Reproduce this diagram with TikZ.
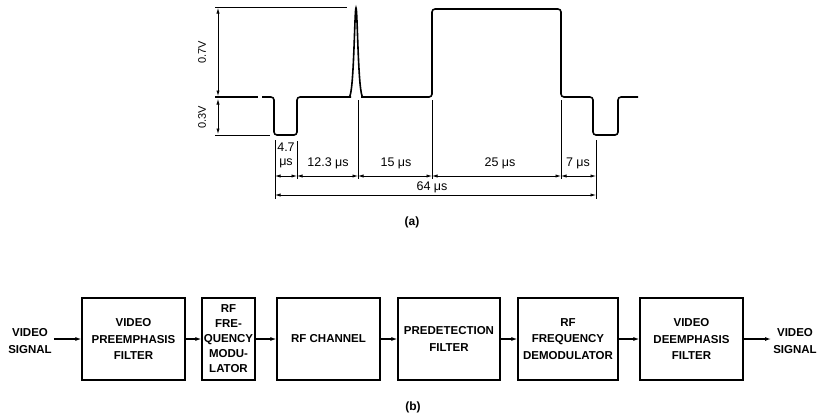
\documentclass[tikz,border=0pt]{standalone}
\usepackage{fontspec}
\setmainfont{Liberation Sans}
\usetikzlibrary{arrows.meta}
\begin{document}
\begin{tikzpicture}[x=1pt,y=-1pt,
 wave/.style={line width=1.6pt, rounded corners=3pt, line join=round},
 thinln/.style={line width=0.7pt},
 dimarr/.style={line width=0.7pt,{Latex[length=5.5pt,width=3.2pt]}-{Latex[length=5.5pt,width=3.2pt]}},
 lbl/.style={font=\fontsize{12.5}{13}\selectfont, inner sep=0pt},
 vlbl/.style={font=\fontsize{11}{12}\selectfont, inner sep=0pt},
 captxt/.style={font=\bfseries\fontsize{12}{13}\selectfont, inner sep=0pt},
 blk/.style={draw, line width=1.2pt, align=center, font=\bfseries\fontsize{11.5}{16.5}\selectfont, inner sep=0pt, minimum height=82pt},
 sigtxt/.style={align=center, font=\bfseries\fontsize{11.5}{17}\selectfont, inner sep=2pt},
 sig/.style={line width=1.2pt, -{Latex[length=6pt,width=4pt]}}
]
\fill[white] (0,0) rectangle (820,416);
\useasboundingbox (0,0) rectangle (820,416);

% ---------- (a) waveform ----------
\draw[line width=1pt] (215,7) -- (347,7);
\draw[line width=1pt] (215,135) -- (270,135);
\draw[wave] (215,97) -- (258,97);
\draw[wave] (262,97) -- (274,97) -- (274,135) -- (297,135) -- (297,97) -- (351,97);
\draw[line width=1.6pt] (349,97) .. controls (354,97) and (354.5,8) .. (356,8) .. controls (357.5,8) and (358,97) .. (363,97);
\draw[wave] (361,97) -- (432,97) -- (432,9) -- (561,9) -- (561,97) -- (593,97) -- (593,135) -- (618,135) -- (618,97) -- (638,97);

\draw[dimarr] (218,8) -- (218,96);
\draw[dimarr] (218,99) -- (218,134);
\node[vlbl, rotate=90] (v07) at (202,52) {0.7V};
\node[vlbl, rotate=90] (v03) at (202,117) {0.3V};

% extension lines
\draw[thinln] (275,140) -- (275,199);
\draw[thinln] (297,141) -- (297,179);
\draw[thinln] (358,100) -- (358,179);
\draw[thinln] (432,100) -- (432,179);
\draw[thinln] (561,100) -- (561,179);
\draw[thinln] (596,140) -- (596,199);

% dimension arrows
\draw[dimarr] (275,176) -- (297,176);
\draw[dimarr] (297,176) -- (358,176);
\draw[dimarr] (358,176) -- (432,176);
\draw[dimarr] (432,176) -- (561,176);
\draw[dimarr] (561,176) -- (596,176);
\draw[dimarr] (275,195) -- (596,195);

\node[lbl] (t47) at (286,147) {4.7};
\node[lbl] (t47u) at (286,163) {μs};
\node[lbl] (t123) at (328,163) {12.3 μs};
\node[lbl] (t15) at (396,163) {15 μs};
\node[lbl] (t25) at (500,163) {25 μs};
\node[lbl] (t7) at (578,163) {7 μs};
\node[lbl] (t64) at (432,187) {64 μs};
\node[captxt] (la) at (412,222) {(a)};

% ---------- (b) block diagram ----------
\node[sigtxt] (in) at (30,341) {VIDEO\\SIGNAL};
\node[blk, minimum width=103pt] (b1) at (133.5,339) {VIDEO\\PREEMPHASIS\\FILTER};
\node[blk, minimum width=53pt, font=\bfseries\fontsize{11.5}{15}\selectfont] (b2) at (228.5,339) {RF\\FRE-\\QUENCY\\MODU-\\LATOR};
\node[blk, minimum width=103pt] (b3) at (328.5,339) {RF CHANNEL};
\node[blk, minimum width=102pt] (b4) at (449,339) {PREDETECTION\\FILTER};
\node[blk, minimum width=100pt] (b5) at (568,339) {RF\\FREQUENCY\\DEMODULATOR};
\node[blk, minimum width=103pt] (b6) at (691.5,339) {VIDEO\\DEEMPHASIS\\FILTER};
\node[sigtxt] (out) at (795,341) {VIDEO\\SIGNAL};

\draw[sig] (in.east |- b1.west) -- (b1.west);
\draw[sig] (b1.east) -- (b2.west);
\draw[sig] (b2.east) -- (b3.west);
\draw[sig] (b3.east) -- (b4.west);
\draw[sig] (b4.east) -- (b5.west);
\draw[sig] (b5.east) -- (b6.west);
\draw[sig] (b6.east) -- (out.west |- b6.east);

\node[captxt] (lb) at (413,407) {(b)};
\end{tikzpicture}
\end{document}
